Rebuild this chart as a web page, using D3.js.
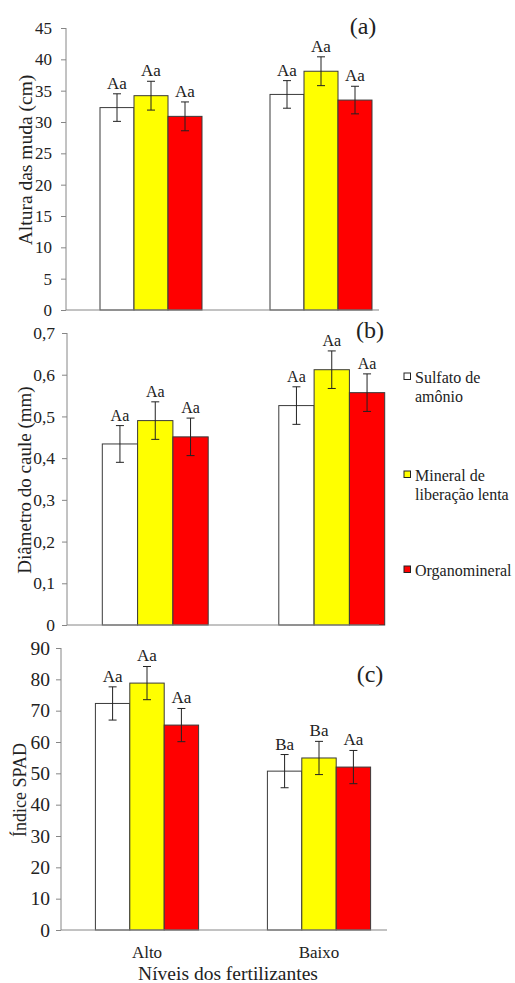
<!DOCTYPE html>
<html>
<head>
<meta charset="utf-8">
<script src="https://cdn.jsdelivr.net/npm/d3@7"></script>
<style>
  body { margin: 0; background: #fff; }
</style>
</head>
<body>
<div id="chart"></div>
<script>
// Kategorien und Serien
const categories = ["Alto", "Baixo"];
const series = ["Sulfato de amônio", "Mineral de liberação lenta", "Organomineral"];
const seriesColors = ["#ffffff", "#ffff00", "#ff0000"];

// (a) Altura das muda
const alturaMeans = [[32.3, 34.2, 30.9], [34.4, 38.1, 33.5]];
const alturaErr = [[2.2, 2.3, 2.3], [2.2, 2.3, 2.2]];
const alturaLetters = [["Aa", "Aa", "Aa"], ["Aa", "Aa", "Aa"]];
const alturaTicks = [0, 5, 10, 15, 20, 25, 30, 35, 40, 45];

// (b) Diâmetro do caule
const diametroMeans = [[0.434, 0.49, 0.451], [0.526, 0.612, 0.557]];
const diametroErr = [[0.044, 0.045, 0.045], [0.045, 0.045, 0.045]];
const diametroLetters = [["Aa", "Aa", "Aa"], ["Aa", "Aa", "Aa"]];
const diametroTicks = [0, 0.1, 0.2, 0.3, 0.4, 0.5, 0.6, 0.7];

// (c) Índice SPAD
const spadMeans = [[72.3, 78.8, 65.4], [50.7, 54.9, 52.0]];
const spadErr = [[5.3, 5.3, 5.3], [5.3, 5.3, 5.3]];
const spadLetters = [["Aa", "Aa", "Aa"], ["Ba", "Ba", "Aa"]];
const spadTicks = [0, 10, 20, 30, 40, 50, 60, 70, 80, 90];

const width = 515, height = 983;
const serif = "'Liberation Serif', 'Times New Roman', serif";
const ink = "#222";

const svg = d3.select("#chart").append("svg")
    .attr("width", width)
    .attr("height", height);

// Text mit Serifenschrift
const addText = (parent, txt, size) => parent.append("text")
    .style("font-family", serif)
    .attr("font-size", size)
    .attr("fill", ink)
    .text(txt);

const fmtComma = d => d === 0 ? "0" : d3.format(".1f")(d).replace(".", ",");

const panels = [
    { means: alturaMeans, err: alturaErr, letters: alturaLetters, ticks: alturaTicks,
      title: "Altura das muda (cm)", tag: "(a)", fmt: d => d,
      left: 66, top: 28, bottom: 310, bandEnd: 406, axisEnd: 379,
      tickFont: 17, tickPad: 9, letterFont: 17, titleFont: 19.5, titleX: 32, titleY: 160,
      tagX: 363, tagY: 34 },
    { means: diametroMeans, err: diametroErr, letters: diametroLetters, ticks: diametroTicks,
      title: "Diâmetro do caule (mm)", tag: "(b)", fmt: fmtComma,
      left: 67, top: 333, bottom: 625, bandEnd: 420, axisEnd: 379,
      tickFont: 17.5, tickPad: 7, letterFont: 16, titleFont: 19, titleX: 31, titleY: 480,
      tagX: 370, tagY: 338 },
    { means: spadMeans, err: spadErr, letters: spadLetters, ticks: spadTicks,
      title: "Índice SPAD", tag: "(c)", fmt: d => d,
      left: 61, top: 648, bottom: 930, bandEnd: 405, axisEnd: 387,
      tickFont: 19.5, tickPad: 6, letterFont: 17, titleFont: 18, titleX: 26, titleY: 790,
      tagX: 370, tagY: 682 }
];

panels.forEach(p => {
    const g = svg.append("g");
    const ymax = p.ticks[p.ticks.length - 1];

    const y = d3.scaleLinear().domain([0, ymax]).range([p.bottom, p.top]);
    const x0 = d3.scaleBand().domain(categories).range([p.left, p.bandEnd]);
    const bw = x0.bandwidth();
    const x1 = d3.scaleBand().domain(d3.range(series.length)).range([bw * 0.2, bw * 0.8]);

    // Y-Achse
    const yAxis = g.append("g")
        .attr("transform", `translate(${p.left},0)`)
        .call(d3.axisLeft(y).tickValues(p.ticks).tickFormat(p.fmt).tickSize(5).tickPadding(p.tickPad));
    yAxis.attr("font-family", null);
    yAxis.selectAll("path, line").attr("stroke", "#868686");
    yAxis.selectAll("text")
        .style("font-family", serif)
        .attr("font-size", p.tickFont)
        .attr("fill", ink);
    yAxis.select(".domain").attr("d", `M0,${p.top}V${p.bottom}`);

    // Balken
    const groups = g.selectAll(".grp")
        .data(categories)
        .join("g")
        .attr("transform", d => `translate(${x0(d)},0)`);

    groups.each(function (cat, ci) {
        const sel = d3.select(this);
        series.forEach((s, si) => {
            const v = p.means[ci][si];
            const e = p.err[ci][si];
            const bx = x1(si);
            const cx = bx + x1.bandwidth() / 2;
            sel.append("rect")
                .attr("x", bx)
                .attr("y", y(v))
                .attr("width", x1.bandwidth())
                .attr("height", y(0) - y(v))
                .attr("fill", seriesColors[si])
                .attr("stroke", "#3a3a3a")
                .attr("stroke-width", 1);
            // Fehlerbalken
            sel.append("line")
                .attr("x1", cx).attr("x2", cx)
                .attr("y1", y(v + e)).attr("y2", y(v - e))
                .attr("stroke", ink);
            [v + e, v - e].forEach(t => {
                sel.append("line")
                    .attr("x1", cx - 4).attr("x2", cx + 4)
                    .attr("y1", y(t)).attr("y2", y(t))
                    .attr("stroke", ink);
            });
            addText(sel, p.letters[ci][si], p.letterFont)
                .attr("x", cx)
                .attr("y", y(v + e) - 5)
                .attr("text-anchor", "middle");
        });
    });

    // X-Achse
    g.append("line")
        .attr("x1", p.left).attr("x2", p.axisEnd)
        .attr("y1", p.bottom).attr("y2", p.bottom)
        .attr("stroke", "#868686");

    // Achsentitel
    addText(g, p.title, p.titleFont)
        .attr("transform", `translate(${p.titleX},${p.titleY}) rotate(-90)`)
        .attr("text-anchor", "middle");

    addText(g, p.tag, 24)
        .attr("x", p.tagX).attr("y", p.tagY)
        .attr("text-anchor", "middle");

    p.x0 = x0;
});

// Kategorie-Labels unter (c)
const pc = panels[2];
categories.forEach(c => {
    addText(svg, c, 17)
        .attr("x", pc.x0(c) + pc.x0.bandwidth() / 2)
        .attr("y", 958)
        .attr("text-anchor", "middle");
});

addText(svg, "Níveis dos fertilizantes", 19.5)
    .attr("x", 228).attr("y", 980)
    .attr("text-anchor", "middle");

// Legende
const legendLines = [["Sulfato de", "amônio"], ["Mineral de", "liberação lenta"], ["Organomineral"]];
const legendY = [383, 481, 576];
const legend = svg.append("g");
series.forEach((s, i) => {
    legend.append("rect")
        .attr("x", 404).attr("y", legendY[i] - 10)
        .attr("width", 6.5).attr("height", 6.5)
        .attr("fill", seriesColors[i])
        .attr("stroke", ink);
    legendLines[i].forEach((ln, j) => {
        addText(legend, ln, 16)
            .attr("x", 415).attr("y", legendY[i] + j * 19);
    });
});
</script>
</body>
</html>
